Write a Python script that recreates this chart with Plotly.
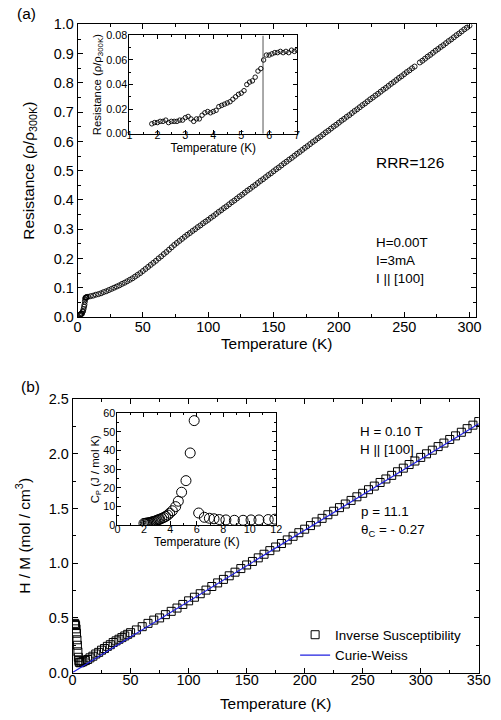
import plotly.graph_objects as go

# ---------------- Panel (a): resistance ----------------
temp_a = [1.8, 2.2, 2.6, 3.0, 3.4, 3.8, 4.2, 4.6, 5.0, 5.3, 5.6, 5.8, 6.0, 6.3, 6.6, 7.0,
          8, 10, 12, 14, 16, 18, 20, 22, 24, 26, 28, 30, 32, 34, 36, 38, 40, 42, 44, 46, 48, 50,
          52, 54, 56, 58, 60, 62, 64, 66, 68, 70, 72, 74, 76, 78, 80, 82, 84, 86, 88, 90, 92, 94,
          96, 98, 100, 102, 104, 106, 108, 110, 112, 114, 116, 118, 120, 122, 124, 126, 128, 130,
          132, 134, 136, 138, 140, 142, 144, 146, 148, 150, 152, 154, 156, 158, 160, 162, 164, 166,
          168, 170, 172, 174, 176, 178, 180, 182, 184, 186, 188, 190, 192, 194, 196, 198, 200, 202,
          204, 206, 208, 210, 212, 214, 216, 218, 220, 222, 224, 226, 228, 230, 232, 234, 236, 238,
          240, 242, 244, 246, 248, 250, 252, 254, 256, 258, 262, 264, 266, 268, 270, 272, 274,
          276, 278, 280, 282, 284, 286, 288, 290, 292, 294, 296, 298, 300]
res_a = [0.008, 0.009, 0.010, 0.011, 0.011, 0.017, 0.020, 0.027, 0.035, 0.042, 0.052, 0.060, 0.065, 0.066, 0.067, 0.068,
         0.069, 0.071, 0.073, 0.076, 0.078, 0.081, 0.085, 0.088, 0.092, 0.096, 0.100, 0.104, 0.108, 0.113, 0.117, 0.122,
         0.127, 0.132, 0.138, 0.144, 0.150, 0.157, 0.164, 0.171, 0.178, 0.185, 0.192, 0.200, 0.207, 0.215, 0.222, 0.230,
         0.238, 0.246, 0.253, 0.260, 0.267, 0.274, 0.281, 0.287, 0.294, 0.300, 0.307, 0.313, 0.320, 0.326, 0.332,
         0.339, 0.345, 0.352, 0.359, 0.365, 0.372, 0.378, 0.385, 0.392, 0.398, 0.405, 0.412, 0.418, 0.425, 0.432,
         0.438, 0.445, 0.451, 0.458, 0.465, 0.471, 0.478, 0.485, 0.491, 0.498, 0.505, 0.511, 0.518, 0.525, 0.531,
         0.538, 0.544, 0.551, 0.558, 0.564, 0.571, 0.578, 0.584, 0.591, 0.598, 0.604, 0.611, 0.617, 0.624, 0.631,
         0.637, 0.644, 0.651, 0.657, 0.664, 0.671, 0.677, 0.684, 0.690, 0.697, 0.704, 0.710, 0.717, 0.724, 0.730,
         0.737, 0.744, 0.750, 0.757, 0.763, 0.770, 0.777, 0.783, 0.790, 0.797, 0.803, 0.810, 0.817, 0.823, 0.830,
         0.837, 0.843, 0.850, 0.856, 0.870, 0.876, 0.883, 0.890, 0.896, 0.903, 0.910, 0.916, 0.923, 0.929,
         0.936, 0.943, 0.949, 0.956, 0.963, 0.969, 0.976, 0.983, 0.989, 0.996]

# inset (a): low-temperature resistance
temp_ia = [1.80, 1.90, 2.00, 2.10, 2.20, 2.30, 2.40, 2.50, 2.60, 2.70, 2.80, 2.90, 3.00, 3.10, 3.20, 3.30,
           3.40, 3.50, 3.60, 3.70, 3.80, 3.90, 4.00, 4.10, 4.20, 4.30, 4.40, 4.50, 4.60, 4.70, 4.80, 4.90,
           5.00, 5.10, 5.20, 5.30, 5.40, 5.50, 5.60, 5.70, 5.80, 5.90, 6.00, 6.10, 6.20, 6.30, 6.40, 6.50,
           6.60, 6.70, 6.80, 6.90, 7.00]
res_ia = [0.008, 0.009, 0.009, 0.010, 0.010, 0.011, 0.009, 0.010, 0.010, 0.010, 0.011, 0.011, 0.013, 0.014, 0.012, 0.010,
          0.012, 0.012, 0.015, 0.017, 0.018, 0.017, 0.018, 0.019, 0.022, 0.023, 0.024, 0.025, 0.026, 0.028, 0.030, 0.032,
          0.033, 0.035, 0.040, 0.042, 0.043, 0.046, 0.051, 0.053, 0.060, 0.064, 0.064, 0.065, 0.066, 0.066, 0.067, 0.066,
          0.067, 0.066, 0.068, 0.067, 0.068]
tc_line_t = [5.78, 5.78]
tc_line_r = [0.0, 0.08]

# ---------------- Panel (b): inverse susceptibility ----------------
temp_b = [1.8, 2.2, 2.6, 3.0, 3.4, 3.8, 4.2, 4.6, 5.0, 5.4, 5.8, 6.5, 7.5, 9, 11, 13, 15, 17.5, 20, 22.5,
          25, 27.5, 30, 32.5, 35, 37.5, 40, 42.5, 45, 47.5, 50, 55, 60, 65, 70, 75, 80, 85, 90,
          95, 100, 105, 110, 115, 120, 125, 130, 135, 140, 145, 150, 155, 160, 165, 170, 175, 180,
          185, 190, 195, 200, 205, 210, 215, 220, 225, 230, 235, 240, 245, 250, 255, 260, 265, 270,
          275, 280, 285, 290, 295, 300, 305, 310, 315, 320, 325, 330, 335, 340, 345, 350]
inv_chi = [0.45, 0.44, 0.43, 0.40, 0.36, 0.30, 0.25, 0.19, 0.14, 0.11, 0.095, 0.09, 0.095, 0.10, 0.11, 0.12, 0.135, 0.15, 0.17, 0.185,
           0.205, 0.22, 0.24, 0.255, 0.275, 0.29, 0.305, 0.32, 0.335, 0.35, 0.365, 0.39, 0.42, 0.45, 0.48, 0.50, 0.53, 0.56, 0.59,
           0.623, 0.656, 0.689, 0.721, 0.754, 0.787, 0.820, 0.852, 0.885, 0.918, 0.951, 0.984, 1.016, 1.049, 1.082, 1.115, 1.148, 1.180,
           1.213, 1.246, 1.279, 1.311, 1.344, 1.377, 1.410, 1.443, 1.475, 1.508, 1.541, 1.574, 1.607, 1.639, 1.672, 1.705, 1.738, 1.770,
           1.803, 1.836, 1.869, 1.902, 1.934, 1.967, 2.000, 2.033, 2.066, 2.098, 2.131, 2.164, 2.197, 2.230, 2.262, 2.295]
cw_t = [0.0, 350.0]
cw_val = [0.002, 2.275]

# inset (b): specific heat
temp_ib = [2.0, 2.1, 2.2, 2.3, 2.4, 2.5, 2.6, 2.7, 2.8, 2.9, 3.0, 3.1, 3.2, 3.35, 3.5, 3.65, 3.8, 3.95, 4.15,
           4.4, 4.6, 4.85, 5.18, 5.5, 5.8, 6.14, 6.57, 6.95, 7.3, 7.7, 8.2, 8.84, 9.5, 10.1, 10.7, 11.4, 11.9]
cp_ib = [1.0, 1.1, 1.2, 1.3, 1.4, 1.6, 1.8, 2.0, 2.2, 2.4, 2.7, 3.0, 3.3, 3.7, 4.2, 4.8, 5.5, 6.5, 7.8,
         10.0, 12.9, 17.7, 23.9, 38.7, 56.0, 6.6, 4.3, 3.8, 3.5, 3.1, 2.9, 2.7, 2.7, 2.9, 2.9, 3.1, 3.3]

FONT = "Arial, 'Liberation Sans', sans-serif"
W, H = 501, 720
# the captured picture comes out slightly scaled/offset from the page; compensate
KX, OX = 0.97, 4.3
KY, OY = 0.976, 7.6
FS = 1.03


def fx(X):
    return (X - OX) / KX


def fy(Y):
    return (Y - OY) / KY


def dom_x(a, b):
    return [fx(a) / W, fx(b) / W]


def dom_y(top, bottom):
    return [1 - fy(bottom) / H, 1 - fy(top) / H]


fig = go.Figure()

fig.add_trace(go.Scatter(x=temp_a, y=res_a, mode="markers", xaxis="x", yaxis="y", showlegend=False,
                         marker=dict(symbol="circle-open", size=5, color="black", line=dict(width=0.9))))
fig.add_trace(go.Scatter(x=tc_line_t, y=tc_line_r, mode="lines", xaxis="x3", yaxis="y3", showlegend=False,
                         line=dict(color="#707070", width=1.2)))
fig.add_trace(go.Scatter(x=temp_ia, y=res_ia, mode="markers", xaxis="x3", yaxis="y3", showlegend=False,
                         marker=dict(symbol="circle-open", size=4.5, color="black", line=dict(width=0.9))))
fig.add_trace(go.Scatter(x=temp_b, y=inv_chi, mode="markers", xaxis="x2", yaxis="y2", name="Inverse Susceptibility",
                         marker=dict(symbol="square-open", size=8, color="black", line=dict(width=1))))
fig.add_trace(go.Scatter(x=cw_t, y=cw_val, mode="lines", xaxis="x2", yaxis="y2", name="Curie-Weiss",
                         line=dict(color="#2020e0", width=1.2)))
fig.add_trace(go.Scatter(x=temp_ib, y=cp_ib, mode="markers", xaxis="x4", yaxis="y4", showlegend=False,
                         marker=dict(symbol="circle-open", size=10, color="black", line=dict(width=1))))


def ax(domain, rng, dtick, minor_dtick, size, title=None, tsize=15, standoff=None, fmt=None, ticklen=5,
       anchor=None, lblshift=0):
    d = dict(domain=domain, range=rng, dtick=dtick, tick0=0, ticks="inside", ticklen=ticklen, tickwidth=1,
             showline=True, linecolor="black", linewidth=1, mirror="ticks", showgrid=False, zeroline=False,
             tickfont=dict(size=size * FS, family=FONT, color="black"), tickcolor="black",
             minor=dict(ticks="inside", ticklen=max(2, ticklen - 2), dtick=minor_dtick, tick0=0, tickcolor="black",
                        showgrid=False),
             anchor=anchor, ticklabelstandoff=lblshift, ticklabeloverflow="allow")
    if fmt:
        d["tickformat"] = fmt
    if title:
        t = dict(text=title, font=dict(size=tsize * FS, family=FONT, color="black"))
        if standoff is not None:
            t["standoff"] = standoff
        d["title"] = t
    return d


fig.update_layout(
    width=W, height=H, margin=dict(l=0, r=0, t=0, b=0),
    paper_bgcolor="white", plot_bgcolor="white",
    font=dict(family=FONT, color="black"),
    xaxis=ax(dom_x(78, 477), [0, 304.8], 50, 25, 14, "Temperature (K)", 15, 0, anchor="y", lblshift=-3),
    yaxis=ax(dom_y(24, 316), [0, 1.0], 0.1, 0.05, 14, "Resistance (ρ/ρ<sub>300K</sub>)", 15, 15, ".1f", anchor="x"),
    xaxis2=ax(dom_x(73, 480), [0, 350], 50, 25, 14, "Temperature (K)", 15, 11, anchor="y2", lblshift=-6),
    yaxis2=ax(dom_y(398, 671), [0, 2.5], 0.5, 0.25, 14, "H / M (mol / cm<sup>3</sup>)", 15, 14, ".1f", anchor="x2"),
    xaxis3=ax(dom_x(130, 298), [1, 7], 1, 0.5, 10.5, "Temperature (K)", 11.5, 0, ticklen=4, anchor="y3", lblshift=-9),
    yaxis3=ax(dom_y(35, 133), [0, 0.08], 0.02, 0.01, 10.5, "Resistance (ρ/ρ<sub>300K</sub>)", 11, 2, ".2f",
              ticklen=4, anchor="x3", lblshift=-1),
    xaxis4=ax(dom_x(118, 277), [0, 12], 2, 1, 10.5, "Temperature (K)", 11.5, 3, ticklen=4, anchor="y4", lblshift=-6),
    yaxis4=ax(dom_y(412, 524), [0, 60], 10, 5, 10.5, "C<sub>P</sub> (J / mol K)", 11, 0, ticklen=4, anchor="x4",
              lblshift=-1),
    legend=dict(x=fx(296) / W, y=1 - fy(618) / H, xanchor="left", yanchor="top", bgcolor="rgba(0,0,0,0)",
                font=dict(size=13 * FS, family=FONT, color="black"), tracegroupgap=0, itemwidth=30),
)

annots = [
    dict(text="(a)", x=fx(15) / W, y=1 - fy(13) / H, xref="paper", yref="paper", xanchor="left", yanchor="middle", size=15),
    dict(text="(b)", x=fx(19) / W, y=1 - fy(385) / H, xref="paper", yref="paper", xanchor="left", yanchor="middle", size=15),
    dict(text="RRR=126", x=227, y=0.527, xref="x", yref="y", xanchor="left", yanchor="middle", size=15),
    dict(text="H=0.00T", x=227, y=0.253, xref="x", yref="y", xanchor="left", yanchor="middle", size=13),
    dict(text="I=3mA", x=227, y=0.192, xref="x", yref="y", xanchor="left", yanchor="middle", size=13),
    dict(text="I || [100]", x=227, y=0.130, xref="x", yref="y", xanchor="left", yanchor="middle", size=13),
    dict(text="H = 0.10 T", x=246, y=2.20, xref="x2", yref="y2", xanchor="left", yanchor="middle", size=13),
    dict(text="H || [100]", x=246, y=2.04, xref="x2", yref="y2", xanchor="left", yanchor="middle", size=13),
    dict(text="p = 11.1", x=247, y=1.47, xref="x2", yref="y2", xanchor="left", yanchor="middle", size=13),
    dict(text="θ<sub>C</sub> = - 0.27", x=247, y=1.30, xref="x2", yref="y2", xanchor="left", yanchor="middle", size=13),
]
for a in annots:
    s = a.pop("size")
    fig.add_annotation(**a, showarrow=False, font=dict(size=s * FS, family=FONT, color="black"))

fig.write_html("out.html", config={"displayModeBar": False},
               post_script="document.body.style.margin='0px';")
